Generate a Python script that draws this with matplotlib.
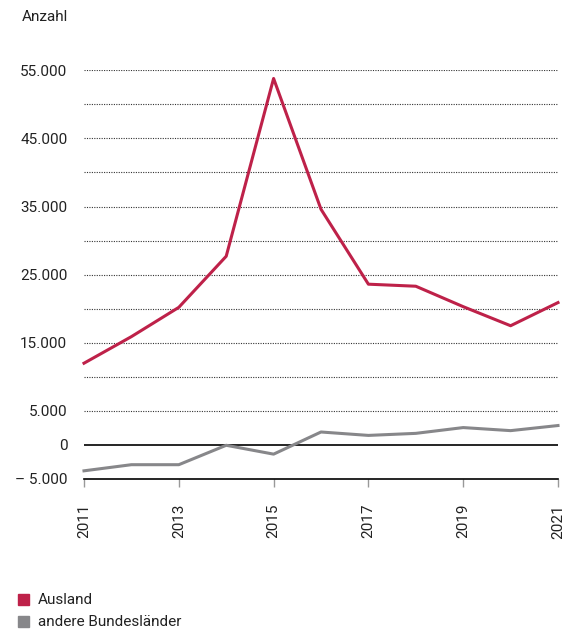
import numpy as np
from matplotlib import pyplot as plt
from matplotlib.patches import Rectangle

plt.rcParams['font.family'] = ['Roboto', 'DejaVu Sans']

# data
years = [2011, 2012, 2013, 2014, 2015, 2016, 2017, 2018, 2019, 2020, 2021]
ausland = [12000, 15900, 20200, 27700, 53800, 34600, 23600, 23300, 20300, 17500, 20900]
bundeslaender = [-3800, -2900, -2900, -50, -1350, 1900, 1400, 1700, 2550, 2100, 2850]
ytick_vals = [55000, 45000, 35000, 25000, 15000, 5000, 0, -5000]
ytick_labels = ['55.000', '45.000', '35.000', '25.000', '15.000', '5.000', '0', '\u2013 5.000']
xtick_vals = [2011, 2013, 2015, 2017, 2019, 2021]
series_names = ['Ausland', 'andere Bundesländer']

red = '#BE2149'
grey = '#87878A'
txt = '#222222'
fs = 11

fig = plt.figure(figsize=(5.64, 6.34), dpi=100)
ax = fig.add_axes([84/564, 1-479/634, (558-84)/564, (479-70.3)/634])

# grid lines
for g in range(5000, 55001, 5000):
    ax.axhline(g, color='#333333', lw=0.8, ls=(0, (1, 1.2)), zorder=1)
ax.axhline(0, color='black', lw=1.2, zorder=2)

ax.plot(years, bundeslaender, color=grey, lw=2.2, zorder=3, clip_on=False)
ax.plot(years, ausland, color=red, lw=2.2, zorder=3, clip_on=False)

ax.set_xlim(2011, 2021)
ax.set_ylim(-5000, 55000)
for s in ['top', 'right', 'left']:
    ax.spines[s].set_visible(False)
ax.spines['bottom'].set_color('black')
ax.spines['bottom'].set_linewidth(1.2)

ax.set_yticks(ytick_vals)
ax.set_yticklabels(ytick_labels, fontsize=fs, color=txt)
ax.tick_params(axis='y', length=0, pad=12)

ax.set_xticks(xtick_vals)
ax.set_xticklabels([str(x) for x in xtick_vals], rotation=90, fontsize=fs, color=txt)
ax.tick_params(axis='x', length=6, width=1, color='#999999', pad=12)

fig.text(22/564, 1-17/634, 'Anzahl', fontsize=fs, color=txt, va='center', ha='left')

# legend
for i, (name, c) in enumerate(zip(series_names, [red, grey])):
    yc = 1 - (600 + i*22)/634
    fig.patches.append(Rectangle((18/564, yc - 5/634), 11/564, 11/634, color=c,
                                 transform=fig.transFigure, figure=fig))
    fig.text(38/564, yc, name, fontsize=fs, color=txt, va='center', ha='left')

fig.savefig('out.png', dpi=100)
